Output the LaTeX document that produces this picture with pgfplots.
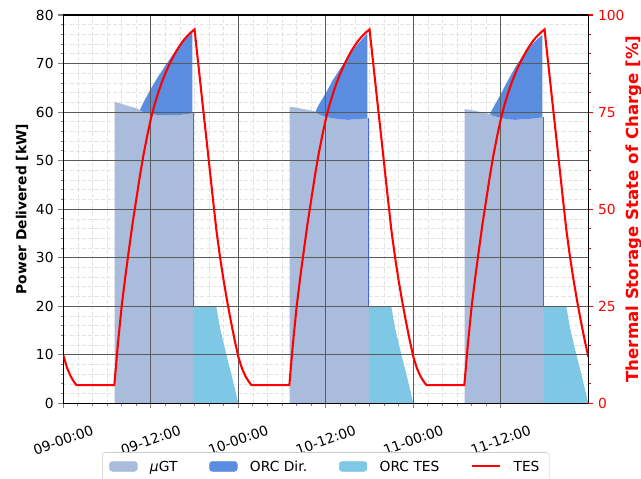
\documentclass[border=0pt]{standalone}
\usepackage{fontspec}
\setmainfont{DejaVu Sans}
\usepackage{pgfplots}
\usepackage{pgfplotstable}
\pgfplotsset{compat=1.18}

\definecolor{gtcol}{RGB}{169,188,219}
\definecolor{dircol}{RGB}{90,140,224}
\definecolor{tescol}{RGB}{126,200,230}
\definecolor{edgecol}{RGB}{65,105,225}
\definecolor{majgrid}{RGB}{90,90,90}

% Thermal storage state of charge [%] over three days (hours from 09-00:00)
\pgfplotstableread{
t soc
0.0 12.4
0.5 9.2
1.0 7.0
1.5 5.4
1.8 4.7
7.0 4.7
7.5 15.5
8.0 24.9
8.5 32.5
9.0 39.5
9.5 46.3
10.0 52.4
10.5 58.5
11.0 64.0
11.5 68.8
12.0 73.2
12.5 76.8
13.0 79.9
13.5 82.6
14.0 85.0
14.5 87.1
15.0 89.0
15.5 90.7
16.0 92.2
16.5 93.5
17.0 94.6
17.5 95.5
18.0 96.3
18.5 87.6
19.0 78.9
19.5 70.3
20.0 61.7
20.5 53.0
21.0 44.5
21.5 37.6
22.0 31.5
22.5 26.0
23.0 21.0
23.5 16.3
24.0 12.0
24.5 9.0
25.0 6.9
25.5 5.4
25.8 4.7
31.0 4.7
31.5 15.5
32.0 24.9
32.5 32.5
33.0 39.5
33.5 46.3
34.0 52.4
34.5 58.5
35.0 64.0
35.5 68.8
36.0 73.2
36.5 76.8
37.0 79.9
37.5 82.6
38.0 85.0
38.5 87.1
39.0 89.0
39.5 90.7
40.0 92.2
40.5 93.5
41.0 94.6
41.5 95.5
42.0 96.3
42.5 87.6
43.0 78.9
43.5 70.3
44.0 61.7
44.5 53.0
45.0 44.5
45.5 37.6
46.0 31.5
46.5 26.0
47.0 21.0
47.5 16.3
48.0 12.0
48.5 9.0
49.0 6.9
49.5 5.4
49.8 4.7
55.0 4.7
55.5 15.5
56.0 24.9
56.5 32.5
57.0 39.5
57.5 46.3
58.0 52.4
58.5 58.5
59.0 64.0
59.5 68.8
60.0 73.2
60.5 76.8
61.0 79.9
61.5 82.6
62.0 85.0
62.5 87.1
63.0 89.0
63.5 90.7
64.0 92.2
64.5 93.5
65.0 94.6
65.5 95.5
66.0 96.3
66.5 87.6
67.0 78.9
67.5 70.3
68.0 61.7
68.5 53.0
69.0 44.5
69.5 37.6
70.0 31.5
70.5 26.0
71.0 21.0
71.5 16.3
72.0 12.0
}\soctable

\pgfplotsset{
  common/.style={
    width=5.25in, height=3.883in, scale only axis,
    at={(0,0)}, anchor=south west,
    xmin=0, xmax=72,
    every tick label/.append style={font=\fontsize{10}{12}\selectfont},
    /pgf/number format/assume math mode=true,
    tick align=outside,
    major tick length=3.5pt, minor tick length=2pt,
    every major tick/.append style={line width=0.8pt},
    every minor tick/.append style={line width=0.6pt},
    axis line style={line width=0.8pt},
  },
}

\begin{document}
\begin{tikzpicture}
% page frame: axis box starts at (0,0)
\useasboundingbox (-0.633in,-0.757in) rectangle (5.777in,4.033in);

% faint minor grid, kept behind the areas
\begin{axis}[common,
  ymin=0, ymax=80,
  xtick={0,12,...,60}, minor x tick num=5,
  ytick={0,10,...,80}, minor y tick num=4,
  xticklabels={}, yticklabels={},
  grid=minor,
  minor grid style={gray!22, line width=0.5pt, dash pattern=on 3pt off 1.5pt},
  tick style={draw=none}, minor tick style={draw=none},
  axis line style={draw=none},
]
\end{axis}

\begin{axis}[common,
  ymin=0, ymax=80,
  ytick={0,10,...,80}, minor y tick num=4,
  xtick={0,12,...,60},
  xticklabels={09-00:00,09-12:00,10-00:00,10-12:00,11-00:00,11-12:00},
  minor x tick num=5,
  xtick pos=left, ytick pos=left,
  grid=major,
  major grid style={majgrid, line width=0.8pt},
  axis on top,
  xticklabel style={yshift=-0.32in, rotate=20, anchor=center},
  ylabel={\bfseries Power Delivered [kW]},
  every axis y label/.style={at={(axis description cs:-0.0787,0.5)}, rotate=90, anchor=center, font=\fontsize{10}{12}\selectfont},
]
% micro gas turbine
\addplot[fill=gtcol, draw=none] coordinates {
 (7.05,62.1) (8,61.7) (9,61.2) (10,60.8) (10.5,60.4) (11,60.0) (12,59.6) (13,59.4)
 (14,59.3) (15,59.3) (16,59.4) (17,59.6) (17.9,59.9)} \closedcycle;
\addplot[fill=gtcol, draw=none] coordinates {
 (31.05,61.1) (32,60.9) (33,60.6) (34,60.3) (34.6,60.1) (35,59.6) (36,59.0) (37,58.7)
 (38,58.5) (39,58.4) (40,58.5) (41,58.6) (41.9,58.8)} \closedcycle;
\addplot[fill=gtcol, draw=none] coordinates {
 (55.05,60.6) (56,60.4) (57,60.1) (58,59.8) (58.5,59.6) (59,59.2) (60,58.8) (61,58.5)
 (62,58.4) (63,58.5) (64,58.6) (65,58.8) (65.9,59.0)} \closedcycle;

% ORC driven directly, stacked on the gas turbine
\addplot[fill=dircol, draw=none] coordinates {
 (10.5,60.4) (11,62.0) (12,64.8) (13,67.3) (14,69.6) (15,71.8) (16,73.8) (17,75.5) (17.7,76.6)
 (17.7,59.8) (17,59.6) (16,59.4) (15,59.3) (14,59.3) (13,59.4) (12,59.6) (11,60.0) (10.5,60.4)} -- cycle;
\addplot[fill=dircol, draw=none] coordinates {
 (34.6,60.1) (35,61.4) (36,63.9) (37,66.7) (38,69.0) (39,71.3) (40,73.3) (41,75.1) (41.7,76.2)
 (41.7,58.7) (41,58.6) (40,58.5) (39,58.4) (38,58.5) (37,58.7) (36,59.0) (35,59.6) (34.6,60.1)} -- cycle;
\addplot[fill=dircol, draw=none] coordinates {
 (58.5,59.6) (59,61.0) (60,63.7) (61,66.6) (62,69.3) (63,71.6) (64,73.5) (65,75.0) (65.7,75.9)
 (65.7,58.9) (65,58.8) (64,58.6) (63,58.5) (62,58.4) (61,58.5) (60,58.8) (59,59.2) (58.5,59.6)} -- cycle;

% ORC fed from thermal storage
\addplot[fill=tescol, draw=none] coordinates {
 (17.9,19.8) (21.0,19.8) (21.5,15.5) (22.0,12.3) (22.5,9.2) (23.0,6.3) (23.5,3.2) (24.0,0)} \closedcycle;
\addplot[fill=tescol, draw=none] coordinates {
 (41.9,19.8) (45.0,19.8) (45.5,15.5) (46.0,12.3) (46.5,9.2) (47.0,6.3) (47.5,3.2) (48.0,0)} \closedcycle;
\addplot[fill=tescol, draw=none] coordinates {
 (65.9,19.8) (69.0,19.8) (69.5,15.5) (70.0,12.3) (70.5,9.2) (71.0,6.3) (71.5,3.2) (72.0,0)} \closedcycle;

% edge where the gas turbine switches off
\addplot[edgecol, line width=0.5pt] coordinates {(17.9,59.9) (17.9,19.8)};
\addplot[edgecol, line width=0.5pt] coordinates {(41.9,58.8) (41.9,19.8)};
\addplot[edgecol, line width=0.5pt] coordinates {(65.9,59.0) (65.9,19.8)};
\end{axis}

\begin{axis}[common,
  axis y line*=right, axis x line=none,
  ymin=0, ymax=100,
  ytick={0,25,...,100}, minor y tick num=4,
  y tick label style={red},
  every y tick/.append style={red},
  every minor y tick/.append style={red},
  ylabel={\bfseries Thermal Storage State of Charge [\%]},
  every axis y label/.style={at={(axis description cs:1.087,0.5)}, rotate=90, anchor=center, red, font=\fontsize{12}{14}\selectfont},
  legend columns=4,
  legend style={at={(axis description cs:0.5,-0.126)}, anchor=north,
    draw=black!20, rounded corners=2pt, font=\fontsize{10}{12}\selectfont,
    inner xsep=5pt, inner ysep=4pt,
    /tikz/every odd column/.append style={column sep=7pt},
    /tikz/every even column/.append style={column sep=21pt}},
]
\addlegendimage{legend image code/.code={\fill[gtcol] (0,-0.3em) rectangle (2em,0.4em);}}
\addlegendentry{{\itshape μ}GT}
\addlegendimage{legend image code/.code={\fill[dircol] (0,-0.3em) rectangle (2em,0.4em);}}
\addlegendentry{ORC Dir.}
\addlegendimage{legend image code/.code={\fill[tescol] (0,-0.3em) rectangle (2em,0.4em);}}
\addlegendentry{ORC TES}
\addplot[red, line width=1.5pt, legend image code/.code={\draw[red, line width=1.5pt] (0,0.05em) -- (2em,0.05em);}] table[x=t, y=soc] {\soctable};
\addlegendentry{TES}
\end{axis}
\end{tikzpicture}
\end{document}
